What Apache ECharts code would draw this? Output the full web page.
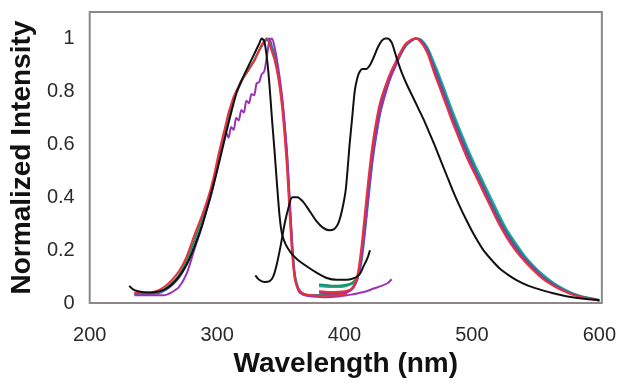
<!DOCTYPE html>
<html>
<head>
<meta charset="utf-8">
<script src="https://cdn.jsdelivr.net/npm/echarts@6/dist/echarts.min.js"></script>
<style>
html,body{margin:0;padding:0;background:#fff;}
#chart{width:619px;height:383px;}
</style>
</head>
<body>
<div id="chart"></div>
<script>
// ---- Data (wavelength in nm, normalized intensity) ----
const xTicks = [200, 300, 400, 500, 600];
const yTicks = [0, 0.2, 0.4, 0.6, 0.8, 1];

// Black excitation
const blackExWl = [231, 234, 238, 245, 252, 258, 264, 270, 276, 282, 288, 294, 300, 305, 310, 315, 320, 325, 330, 333, 335, 337, 339, 341, 343, 345, 347, 349, 351, 354, 358, 363, 370, 378, 386, 394, 402, 408, 412, 415, 418, 420];
const blackExY  = [0.065, 0.052, 0.045, 0.04, 0.042, 0.05, 0.068, 0.1, 0.145, 0.21, 0.29, 0.39, 0.5, 0.6, 0.7, 0.79, 0.85, 0.9, 0.95, 0.98, 1.0, 0.99, 0.93, 0.83, 0.7, 0.58, 0.45, 0.33, 0.26, 0.22, 0.19, 0.165, 0.14, 0.115, 0.095, 0.088, 0.088, 0.095, 0.11, 0.14, 0.17, 0.2];

// Black emission
const blackEmWl = [330, 333, 337, 341, 344, 347, 350, 353, 356, 359, 363, 368, 373, 378, 383, 388, 392, 395, 398, 401, 404, 406, 408, 410, 412, 414, 417, 420, 423, 426, 429, 432, 434, 437, 441, 445, 449, 454, 458, 462, 466, 470, 475, 480, 485, 490, 496, 502, 509, 516, 522, 529, 535, 544, 553, 563, 574, 586, 600];
const blackEmY  = [0.105, 0.088, 0.08, 0.082, 0.1, 0.15, 0.22, 0.3, 0.36, 0.4, 0.4, 0.38, 0.345, 0.31, 0.285, 0.275, 0.28, 0.3, 0.35, 0.43, 0.6, 0.7, 0.8, 0.85, 0.875, 0.885, 0.885, 0.9, 0.93, 0.965, 0.99, 1.0, 1.0, 0.985, 0.925, 0.87, 0.825, 0.775, 0.735, 0.695, 0.65, 0.605, 0.545, 0.485, 0.425, 0.37, 0.31, 0.255, 0.2, 0.16, 0.13, 0.105, 0.087, 0.066, 0.052, 0.038, 0.026, 0.017, 0.011];

// Coloured excitation spectra (shared wavelengths)
const exWl = [235, 245, 252, 258, 264, 270, 276, 282, 288, 293, 297, 301, 305, 307, 309, 311, 313, 315, 317, 319, 321, 323, 325, 327, 329, 331, 333, 335, 337, 339, 341, 343, 345, 348, 351, 353, 355, 357, 359, 361, 364, 368, 375, 385, 395, 402];
const redEx    = [0.04, 0.04, 0.045, 0.06, 0.085, 0.12, 0.175, 0.255, 0.33, 0.4, 0.47, 0.56, 0.64, 0.68, 0.72, 0.75, 0.78, 0.8, 0.82, 0.84, 0.855, 0.87, 0.885, 0.9, 0.915, 0.935, 0.955, 0.975, 0.99, 1.0, 0.98, 0.95, 0.92, 0.85, 0.74, 0.63, 0.5, 0.33, 0.18, 0.09, 0.05, 0.035, 0.03, 0.028, 0.03, 0.033];
const greenEx  = [0.035, 0.035, 0.04, 0.05, 0.075, 0.105, 0.16, 0.235, 0.315, 0.385, 0.455, 0.545, 0.63, 0.67, 0.71, 0.745, 0.775, 0.8, 0.82, 0.84, 0.855, 0.87, 0.885, 0.9, 0.915, 0.935, 0.955, 0.975, 0.99, 1.0, 0.985, 0.96, 0.93, 0.86, 0.76, 0.66, 0.53, 0.36, 0.2, 0.1, 0.05, 0.035, 0.03, 0.03, 0.03, 0.035];
const blueEx   = [0.035, 0.035, 0.035, 0.045, 0.065, 0.095, 0.145, 0.215, 0.295, 0.37, 0.44, 0.53, 0.62, 0.66, 0.7, 0.74, 0.77, 0.795, 0.815, 0.835, 0.855, 0.87, 0.885, 0.9, 0.915, 0.935, 0.955, 0.97, 0.985, 0.995, 1.0, 0.97, 0.94, 0.87, 0.77, 0.67, 0.55, 0.38, 0.22, 0.11, 0.055, 0.035, 0.03, 0.03, 0.03, 0.03];

// Purple excitation (noisy) with scatter tail
const purpleExWl = [235, 245, 252, 258, 264, 270, 276, 282, 288, 293, 297, 301, 305, 307, 309, 311, 313, 315, 317, 319, 321, 323, 325, 327, 329, 331, 333, 335, 337, 339, 341, 343, 345, 348, 351, 353, 355, 357, 359, 361, 364, 368, 375, 385, 395, 405, 415, 423, 429, 434, 437];
const purpleExY  = [0.03, 0.03, 0.03, 0.03, 0.04, 0.06, 0.11, 0.2, 0.29, 0.38, 0.45, 0.53, 0.61, 0.645, 0.625, 0.665, 0.655, 0.7, 0.69, 0.73, 0.72, 0.765, 0.755, 0.79, 0.785, 0.83, 0.835, 0.865, 0.875, 0.93, 0.99, 1.0, 0.97, 0.89, 0.78, 0.68, 0.56, 0.39, 0.22, 0.1, 0.045, 0.03, 0.025, 0.022, 0.025, 0.032, 0.042, 0.055, 0.065, 0.076, 0.09];

// Coloured emission spectra (shared wavelengths)
const emWl = [380, 385, 390, 395, 400, 404, 407, 410, 413, 416, 419, 422, 425, 428, 432, 436, 440, 444, 448, 452, 456, 460, 465, 470, 475, 480, 485, 490, 496, 502, 508, 514, 520, 527, 534, 541, 548, 556, 564, 572, 580, 590, 600];
const redEm    = [0.045, 0.043, 0.042, 0.043, 0.045, 0.05, 0.065, 0.1, 0.2, 0.34, 0.48, 0.6, 0.69, 0.76, 0.82, 0.87, 0.91, 0.95, 0.98, 0.995, 1.0, 0.985, 0.945, 0.875, 0.81, 0.745, 0.68, 0.62, 0.55, 0.49, 0.43, 0.37, 0.31, 0.25, 0.2, 0.16, 0.125, 0.09, 0.065, 0.045, 0.03, 0.018, 0.01];
const purpleEm = [0.04, 0.037, 0.035, 0.035, 0.038, 0.045, 0.058, 0.088, 0.16, 0.28, 0.42, 0.55, 0.64, 0.72, 0.79, 0.85, 0.895, 0.94, 0.975, 0.99, 1.0, 0.99, 0.952, 0.885, 0.82, 0.755, 0.69, 0.63, 0.56, 0.497, 0.437, 0.377, 0.317, 0.257, 0.207, 0.165, 0.13, 0.094, 0.068, 0.047, 0.031, 0.018, 0.01];
const blueEm   = [0.04, 0.038, 0.037, 0.038, 0.04, 0.046, 0.06, 0.09, 0.17, 0.3, 0.44, 0.56, 0.66, 0.74, 0.81, 0.865, 0.905, 0.945, 0.975, 0.99, 1.0, 0.992, 0.957, 0.893, 0.83, 0.765, 0.7, 0.64, 0.57, 0.505, 0.445, 0.385, 0.325, 0.264, 0.213, 0.17, 0.134, 0.097, 0.07, 0.048, 0.032, 0.019, 0.01];
const greenEm  = [0.07, 0.068, 0.066, 0.066, 0.068, 0.072, 0.08, 0.1, 0.16, 0.28, 0.42, 0.55, 0.65, 0.73, 0.8, 0.86, 0.9, 0.94, 0.975, 0.99, 1.0, 0.993, 0.96, 0.9, 0.838, 0.773, 0.708, 0.648, 0.578, 0.513, 0.453, 0.393, 0.333, 0.272, 0.22, 0.175, 0.138, 0.1, 0.072, 0.05, 0.033, 0.02, 0.011];
const tealEm   = [0.065, 0.063, 0.062, 0.062, 0.064, 0.07, 0.078, 0.095, 0.15, 0.27, 0.41, 0.54, 0.64, 0.72, 0.795, 0.855, 0.9, 0.94, 0.972, 0.99, 1.0, 0.995, 0.965, 0.91, 0.85, 0.785, 0.72, 0.66, 0.59, 0.525, 0.465, 0.405, 0.345, 0.28, 0.228, 0.18, 0.142, 0.105, 0.076, 0.053, 0.035, 0.021, 0.011];

// ---- Build chart ----
function pairs(xs, ys) { return xs.map((x, i) => [x, ys[i]]); }
function line(name, xs, ys, color, width, z) {
  return {
    name: name, type: 'line', data: pairs(xs, ys), showSymbol: false, symbol: 'none',
    smooth: 0.25, lineStyle: { color: color, width: width }, z: z, silent: true
  };
}
const C = { red: '#e8323c', green: '#15975a', blue: '#3a5fc4', purple: '#9b32b4', teal: '#2aa3a0', black: '#111111' };

const chart = echarts.init(document.getElementById('chart'), null, { renderer: 'canvas' });
const font = '"Liberation Sans", Arial, Helvetica, sans-serif';
chart.setOption({
  animation: false,
  backgroundColor: '#ffffff',
  grid: { left: 88, right: 17, top: 12, bottom: 70, show: true, borderColor: '#8f8787', borderWidth: 2, backgroundColor: 'transparent' },
  xAxis: {
    type: 'value', min: 200, max: 602, interval: 100,
    name: 'Wavelength (nm)', nameLocation: 'middle', nameGap: 45,
    nameTextStyle: { fontFamily: font, fontSize: 28, fontWeight: 'bold', color: '#111' },
    axisLine: { show: false }, axisTick: { show: false }, splitLine: { show: false },
    axisLabel: {
      margin: 22, fontFamily: font, fontSize: 20, color: '#2a2a2a',
      formatter: v => (xTicks.indexOf(v) >= 0 ? String(v) : '')
    }
  },
  yAxis: {
    type: 'value', min: 0, max: 1.1, interval: 0.2,
    name: 'Normalized Intensity', nameLocation: 'middle', nameGap: 49,
    nameTextStyle: { fontFamily: font, fontSize: 28, fontWeight: 'bold', color: '#111' },
    axisLine: { show: false }, axisTick: { show: false }, splitLine: { show: false },
    axisLabel: {
      margin: 15, fontFamily: font, fontSize: 20, color: '#2a2a2a',
      formatter: v => { const r = Math.round(v * 10) / 10; return yTicks.indexOf(r) >= 0 && Math.abs(v - r) < 1e-6 ? String(r) : ''; }
    }
  },
  series: [
    line('teal em', emWl, tealEm, C.teal, 2.5, 1),
    line('green em', emWl, greenEm, C.green, 2, 2),
    line('blue ex', exWl, blueEx, C.blue, 2, 2),
    line('blue em', emWl, blueEm, C.blue, 2, 3),
    line('green ex', exWl, greenEx, C.green, 2, 3),
    line('purple ex', purpleExWl, purpleExY, C.purple, 2, 4),
    line('purple em', emWl, purpleEm, C.purple, 2, 4),
    line('red ex', exWl, redEx, C.red, 2, 5),
    line('red em', emWl, redEm, C.red, 2, 5),
    line('black ex', blackExWl, blackExY, C.black, 2, 6),
    line('black em', blackEmWl, blackEmY, C.black, 2, 6)
  ]
});
</script>
</body>
</html>
